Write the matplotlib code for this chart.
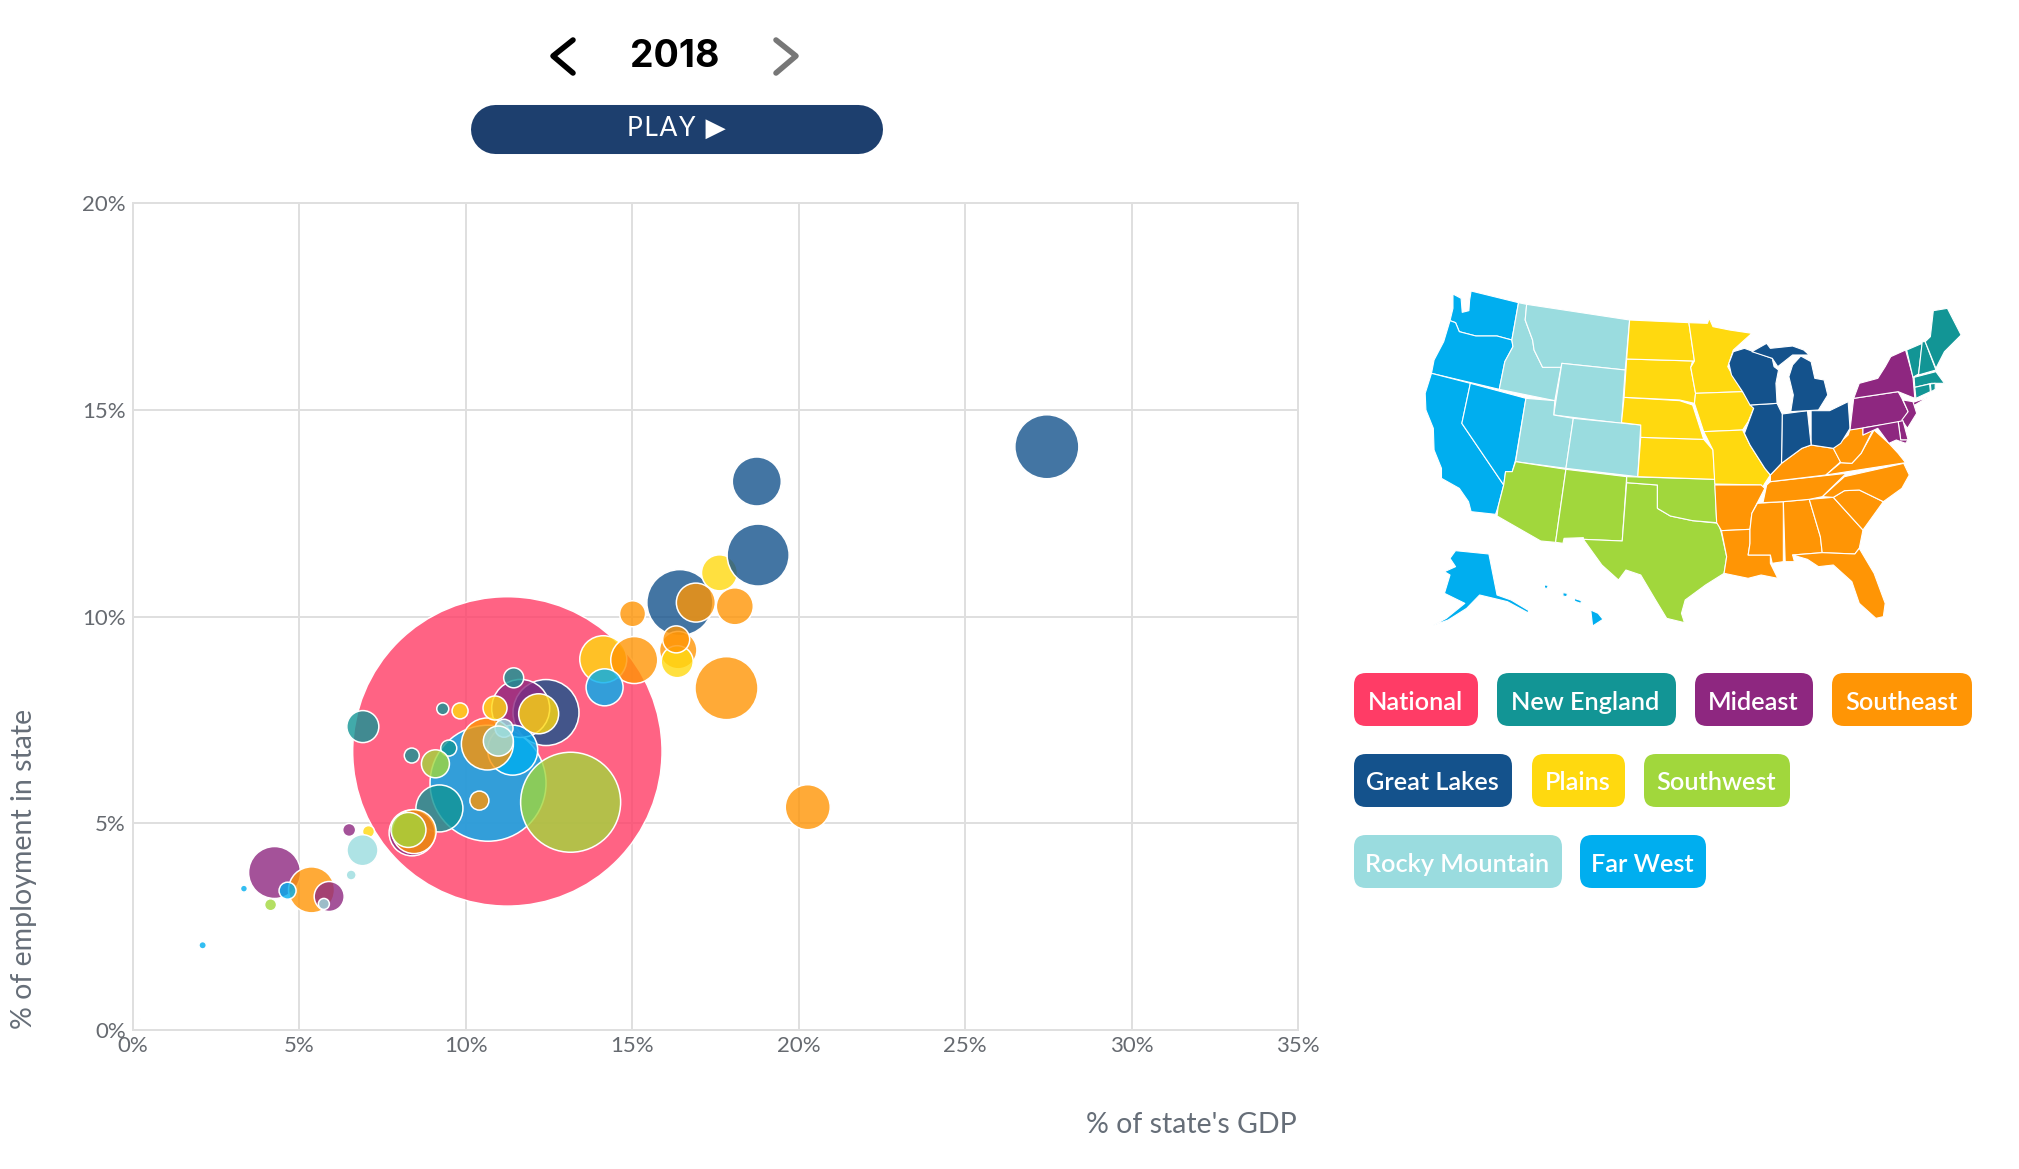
import matplotlib
matplotlib.use("Agg")
import matplotlib.pyplot as plt
from matplotlib.colors import to_rgba
from matplotlib.patches import FancyBboxPatch, Polygon

plt.rcParams["font.family"] = ["Lato", "DejaVu Sans"]

W, H = 2019, 1169
DPI = 100

# Colours per region
colors = {
    "National": "#ff3c66",
    "New England": "#129595",
    "Mideast": "#8e2780",
    "Southeast": "#ff9505",
    "Great Lakes": "#14528c",
    "Plains": "#ffd90f",
    "Southwest": "#a1d73c",
    "Rocky Mountain": "#9adcdf",
    "Far West": "#00aeef",
}

# Bubbles, in drawing order: share of GDP, share of employment, size, region
gdp_share = [11.25, 10.67, 13.15, 12.41, 11.65, 11.41, 10.65, 12.19, 10.88, 11.15,
             10.98, 11.44, 9.31, 9.83, 6.91, 9.49, 8.38, 9.09, 9.21, 10.41,
             8.39, 8.45, 8.28, 14.13, 15.06, 14.17, 15.01, 16.43, 16.91, 16.38,
             16.35, 16.32, 17.83, 17.62, 18.08, 18.78, 18.74, 27.45, 20.27, 4.26,
             5.37, 4.65, 5.90, 5.74, 4.14, 3.34, 2.10, 6.50, 7.08, 6.90, 6.56, 0.20]
emp_share = [6.74, 5.97, 5.51, 7.68, 7.78, 6.77, 6.92, 7.65, 7.79, 7.30,
             6.99, 8.52, 7.77, 7.72, 7.34, 6.82, 6.64, 6.44, 5.36, 5.55,
             4.77, 4.80, 4.84, 8.97, 8.95, 8.29, 10.07, 10.34, 10.34, 9.19,
             8.91, 9.45, 8.27, 11.06, 10.25, 11.49, 13.27, 14.11, 5.39, 3.81,
             3.39, 3.37, 3.23, 3.05, 3.03, 3.42, 2.05, 4.84, 4.80, 4.35, 3.75, 0.26]
bubble_radius = [154.7, 58, 50, 33, 29, 25, 26, 20, 12, 9,
                 15, 10, 6, 8, 16, 8, 7.5, 14, 23.5, 9.5,
                 23, 22, 17.5, 23.5, 23.5, 18.5, 13, 33, 19.5, 18.7,
                 16, 13.5, 31.5, 18, 18.5, 31, 24.5, 32, 22.5, 26,
                 23, 8.5, 15, 5.5, 6, 3.5, 3.7, 6.5, 6, 15.5, 5, 0.8]
bubble_region = ["National", "Far West", "Southwest", "Great Lakes", "Mideast", "Far West",
                 "Southeast", "Plains", "Plains", "Rocky Mountain", "Rocky Mountain",
                 "New England", "New England", "Plains", "New England", "New England",
                 "New England", "Southwest", "New England", "Southeast", "Mideast",
                 "Southeast", "Southwest", "Plains", "Southeast", "Far West", "Southeast",
                 "Great Lakes", "Southeast", "Southeast", "Plains", "Southeast", "Southeast",
                 "Plains", "Southeast", "Great Lakes", "Great Lakes", "Great Lakes",
                 "Southeast", "Mideast", "Southeast", "Far West", "Mideast", "Rocky Mountain",
                 "Southwest", "Far West", "Far West", "Mideast", "Plains", "Rocky Mountain",
                 "Rocky Mountain", "New England"]

x_ticks = [0, 5, 10, 15, 20, 25, 30, 35]
y_ticks = [0, 5, 10, 15, 20]

legend_rows = [["National", "New England", "Mideast", "Southeast"],
               ["Great Lakes", "Plains", "Southwest"],
               ["Rocky Mountain", "Far West"]]
legend_spans = {
    "National": (1354, 1478), "New England": (1497, 1676), "Mideast": (1695, 1813),
    "Southeast": (1832, 1972), "Great Lakes": (1354, 1512), "Plains": (1532, 1625),
    "Southwest": (1644, 1790), "Rocky Mountain": (1354, 1562), "Far West": (1580, 1706),
}
legend_tops = [673, 754, 835]

# Hand traced state outlines for the little map, per region
states = {
    "Far West": [
        [(143, 42), (165, 55), (168, 97), (186, 92), (188, 60), (192, 33), (320, 68), (302, 180), (262, 168), (205, 168), (160, 155), (150, 128), (135, 122), (143, 85)],
        [(135, 122), (150, 128), (160, 155), (205, 168), (262, 168), (302, 180), (305, 200), (283, 245), (268, 328), (85, 280), (92, 240), (118, 185)],
        [(85, 280), (190, 310), (167, 430), (280, 615), (265, 680), (258, 703), (192, 695), (185, 665), (160, 625), (112, 595), (112, 565), (92, 510), (90, 445), (70, 390), (68, 340)],
        [(190, 310), (340, 355), (312, 540), (303, 575), (285, 575), (280, 615), (167, 430)],
        [(150, 812), (240, 822), (262, 945), (300, 960), (348, 992), (345, 998), (290, 965), (215, 945), (180, 985), (130, 1020), (90, 1036), (125, 1015), (175, 970), (120, 940), (135, 885), (120, 875), (150, 860), (135, 835)],
        [(515, 990), (535, 1000), (548, 1018), (520, 1038)],
        [(440, 938), (452, 940), (450, 950), (440, 948)],
        [(390, 915), (400, 916), (398, 925), (390, 924)],
        [(470, 955), (490, 962), (488, 970), (472, 964)],
    ],
    "Rocky Mountain": [
        [(320, 68), (342, 73), (338, 120), (358, 180), (362, 210), (385, 262), (435, 260), (418, 362), (268, 328), (283, 245), (305, 200), (302, 180)],
        [(342, 73), (620, 120), (608, 270), (437, 250), (435, 262), (385, 262), (362, 210), (358, 180), (338, 120)],
        [(437, 250), (608, 270), (598, 430), (415, 405)],
        [(340, 355), (418, 362), (415, 405), (468, 415), (448, 565), (312, 545)],
        [(468, 415), (650, 435), (642, 590), (448, 565)],
    ],
    "Southwest": [
        [(312, 545), (448, 568), (420, 787), (380, 783), (262, 708), (265, 680), (280, 615), (285, 575), (303, 575)],
        [(448, 568), (612, 590), (600, 783), (495, 778), (495, 773), (443, 775), (440, 790), (420, 787)],
        [(612, 608), (695, 615), (695, 685), (730, 708), (790, 722), (860, 730), (868, 760), (882, 830), (875, 880), (825, 915), (770, 960), (760, 1000), (768, 1028), (720, 1015), (690, 960), (650, 885), (610, 870), (590, 900), (545, 855), (495, 778), (600, 783)],
        [(612, 590), (850, 598), (855, 728), (790, 722), (730, 708), (695, 685), (695, 615), (612, 608)],
    ],
    "Plains": [
        [(650, 472), (820, 478), (845, 510), (850, 598), (642, 590)],
        [(605, 352), (755, 362), (790, 375), (820, 478), (650, 472), (650, 435), (598, 428)],
        [(612, 237), (790, 243), (785, 262), (798, 340), (795, 370), (755, 360), (605, 352)],
        [(620, 120), (780, 128), (795, 243), (612, 237)],
        [(780, 128), (830, 130), (835, 115), (845, 140), (890, 150), (950, 160), (900, 210), (885, 260), (895, 280), (925, 335), (798, 340), (785, 262), (795, 243)],
        [(798, 340), (925, 335), (955, 385), (940, 425), (925, 450), (820, 455), (795, 370)],
        [(820, 455), (925, 450), (945, 495), (985, 565), (1000, 585), (985, 610), (975, 630), (975, 615), (850, 612), (845, 510)],
    ],
    "Southeast": [
        [(850, 615), (975, 615), (985, 625), (950, 700), (945, 748), (868, 752), (855, 728)],
        [(868, 752), (945, 748), (945, 790), (940, 825), (1000, 825), (1000, 850), (1020, 895), (975, 885), (940, 895), (875, 880), (882, 830)],
        [(965, 670), (1035, 665), (1035, 845), (1005, 850), (1000, 825), (940, 825), (945, 790), (945, 748), (950, 700)],
        [(1035, 665), (1105, 658), (1135, 770), (1140, 818), (1060, 825), (1065, 845), (1040, 845)],
        [(1105, 658), (1170, 652), (1250, 750), (1240, 805), (1228, 822), (1140, 818), (1135, 770)],
        [(1060, 825), (1140, 818), (1228, 822), (1240, 805), (1280, 880), (1310, 970), (1305, 1010), (1285, 1015), (1240, 970), (1220, 905), (1170, 855), (1130, 860), (1100, 838)],
        [(1170, 652), (1200, 632), (1240, 630), (1305, 665), (1250, 750)],
        [(1140, 650), (1200, 590), (1360, 550), (1375, 585), (1355, 625), (1305, 665), (1240, 630), (1200, 632), (1170, 652)],
        [(980, 668), (990, 615), (1000, 605), (1205, 580), (1140, 650), (1105, 658), (1035, 665)],
        [(1000, 605), (1000, 585), (1030, 550), (1085, 505), (1110, 495), (1170, 505), (1190, 545), (1150, 585)],
        [(1150, 585), (1190, 548), (1220, 550), (1245, 520), (1280, 450), (1320, 490), (1345, 520), (1365, 548)],
        [(1170, 505), (1210, 465), (1215, 448), (1250, 444), (1250, 465), (1278, 448), (1245, 520), (1220, 550), (1190, 548)],
    ],
    "Great Lakes": [
        [(1110, 392), (1160, 392), (1210, 365), (1215, 445), (1190, 490), (1170, 505), (1110, 495)],
        [(1032, 402), (1100, 392), (1110, 495), (1085, 505), (1030, 550)],
        [(945, 375), (1018, 370), (1032, 402), (1030, 550), (1000, 585), (985, 565), (945, 495), (930, 460), (955, 385)],
        [(888, 250), (900, 215), (930, 205), (1005, 235), (1010, 260), (1022, 270), (1015, 310), (1018, 370), (945, 375), (925, 335), (895, 285)],
        [(950, 215), (990, 190), (1000, 205), (1060, 198), (1090, 210), (1105, 225), (1060, 225), (1020, 260), (1005, 235)],
        [(1082, 228), (1110, 245), (1120, 295), (1145, 300), (1155, 345), (1130, 390), (1055, 395), (1062, 345), (1050, 290), (1060, 255)],
    ],
    "Mideast": [
        [(1225, 355), (1345, 335), (1355, 355), (1372, 395), (1355, 425), (1215, 450)],
        [(1240, 310), (1290, 295), (1310, 260), (1325, 230), (1365, 210), (1385, 290), (1390, 355), (1345, 335), (1225, 355)],
        [(1365, 375), (1425, 352), (1390, 375)],
        [(1358, 360), (1385, 365), (1395, 400), (1370, 445), (1355, 420), (1372, 395)],
        [(1345, 425), (1358, 422), (1372, 480), (1352, 480)],
        [(1250, 444), (1345, 425), (1352, 480), (1372, 480), (1365, 490), (1340, 480), (1320, 490), (1290, 445), (1250, 465)],
    ],
    "New England": [
        [(1368, 210), (1410, 190), (1400, 282), (1385, 292)],
        [(1410, 185), (1418, 185), (1447, 270), (1400, 285)],
        [(1418, 185), (1432, 170), (1440, 92), (1478, 85), (1515, 165), (1470, 215), (1447, 265)],
        [(1388, 292), (1447, 275), (1470, 310), (1435, 310), (1390, 322)],
        [(1390, 322), (1430, 312), (1432, 335), (1393, 355)],
        [(1432, 312), (1445, 310), (1445, 328), (1434, 335)],
    ],
}

fig = plt.figure(figsize=(W / DPI, H / DPI), dpi=DPI, facecolor="white")

# Scatter
left, right, top, bottom = 132.7, 1298.3, 203.3, 1030
ax = fig.add_axes([left / W, 1 - bottom / H, (right - left) / W, (bottom - top) / H])
ax.set_xlim(0, 35)
ax.set_ylim(0, 20)
ax.set_axisbelow(True)
ax.grid(color="#dfdfdf", lw=1.4)
for s in ax.spines.values():
    s.set_color("#dfdfdf")
    s.set_linewidth(1.4)
ax.set_xticks(x_ticks, [f"{t}%" for t in x_ticks])
ax.set_yticks(y_ticks, [f"{t}%" for t in y_ticks])
ax.tick_params(length=0, labelsize=16, labelcolor="#666a70")
ax.tick_params(axis="x", pad=4)
ax.tick_params(axis="y", pad=5)

sizes = [(2 * r * 72 / DPI) ** 2 for r in bubble_radius]
faces = [to_rgba(colors[r], 0.8) for r in bubble_region]
ax.scatter(gdp_share, emp_share, s=sizes, c=faces, edgecolors="white", linewidths=1.1,
           clip_on=False, zorder=3)

# Overlay in pixels for the controls, legend and axis titles
ui = fig.add_axes([0, 0, 1, 1])
ui.set_xlim(0, W)
ui.set_ylim(H, 0)
ui.axis("off")
ui.patch.set_alpha(0)

ui.plot([573, 553, 573], [40, 56, 73], color="black", lw=4, solid_capstyle="round", solid_joinstyle="round")
ui.plot([776, 796, 776], [40, 56, 73], color="#777777", lw=4, solid_capstyle="round", solid_joinstyle="round")
ui.text(675, 57, "2018", ha="center", va="center", fontsize=27, fontweight="bold", color="black", family="Inter")
# button is a thick line with round caps
ui.plot([494.5, 858], [129, 129], color="#1d3f6e", lw=35.3, solid_capstyle="round")
ui.text(676, 128, "P\u200aL\u200aA\u200aY\u2009 ▶", ha="center", va="center", fontsize=19, color="white")

for row, y0 in zip(legend_rows, legend_tops):
    for name in row:
        x0, x1 = legend_spans[name]
        ui.add_patch(FancyBboxPatch((x0 + 12, y0 + 12), x1 - x0 - 24, 53 - 24,
                                    boxstyle="round,pad=12,rounding_size=12", fc=colors[name], ec="none"))
        ui.text((x0 + x1) / 2 - 1, y0 + 29, name, ha="center", va="center", fontsize=18.2,
                color="white", fontweight=600)

ui.text(1297, 1125, "% of state's GDP", ha="right", va="center", fontsize=20.5, color="#666e78")
ui.text(24, 869, "% of employment in state", ha="center", va="center", rotation=90, fontsize=20.5, color="#666e78")

# Map
m = fig.add_axes([1400 / W, 1 - 640 / H, 580 / W, 360 / H])
m.set_xlim(0, 1566)
m.set_ylim(1080, 0)
m.axis("off")
for region, polys in states.items():
    for pts in polys:
        m.add_patch(Polygon(pts, closed=True, fc=colors[region], ec="white", lw=0.8, joinstyle="round"))

fig.savefig("out.png", dpi=DPI)
